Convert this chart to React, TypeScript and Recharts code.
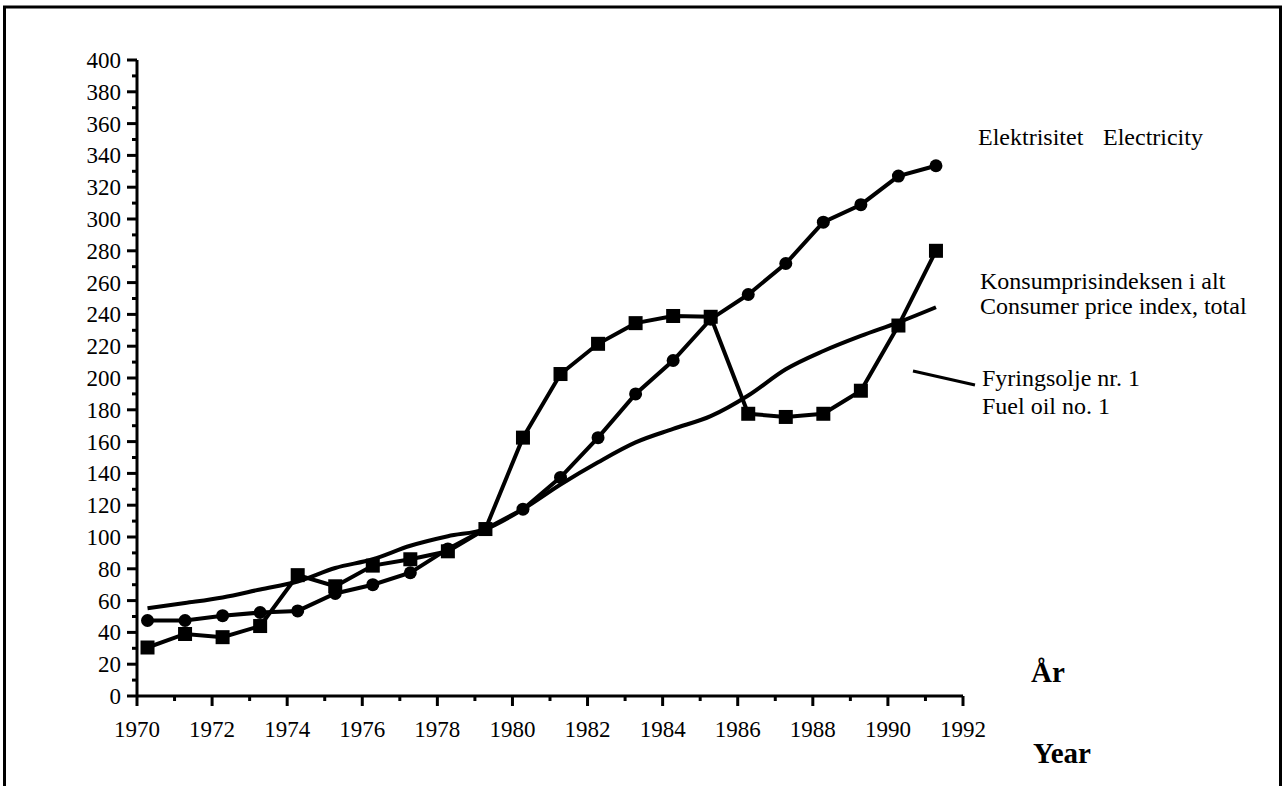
import React from 'react';
import { LineChart, Line, XAxis, YAxis } from 'recharts';

// price index series (points sit a bit after each year mark)
const years = [1970, 1971, 1972, 1973, 1974, 1975, 1976, 1977, 1978, 1979, 1980, 1981, 1982, 1983, 1984, 1985, 1986, 1987, 1988, 1989, 1990, 1991];
const electricity = [47.5, 47.5, 50.5, 52.5, 53.5, 64.5, 70, 77.5, 92.5, 105, 117.5, 137.5, 162.5, 190, 211, 237, 252.5, 272, 298, 309, 327, 333.5];
const fuelOil = [30.5, 39, 37, 44, 76, 69, 82, 86, 91, 105, 162.5, 202.5, 221.5, 234.5, 239, 238.5, 177.5, 175.5, 177.5, 192, 233, 280];
const cpi = [55.2, 58.5, 62, 67, 72, 80.5, 86, 94.5, 100.5, 105, 117.5, 133, 147, 159.5, 168, 176, 189, 205.5, 217, 226.5, 235, 244.5];

const xTicks = [1970, 1971, 1972, 1973, 1974, 1975, 1976, 1977, 1978, 1979, 1980, 1981, 1982, 1983, 1984, 1985, 1986, 1987, 1988, 1989, 1990, 1991, 1992];
const yTicks = [0, 10, 20, 30, 40, 50, 60, 70, 80, 90, 100, 110, 120, 130, 140, 150, 160, 170, 180, 190, 200, 210, 220, 230, 240, 250, 260, 270, 280, 290, 300, 310, 320, 330, 340, 350, 360, 370, 380, 390, 400];

const font = "'Liberation Serif', 'Times New Roman', serif";
const yearOffset = 0.28;

const data = years.map((y, i) => ({
  x: y + yearOffset,
  el: electricity[i],
  oil: fuelOil[i],
  cpi: cpi[i],
}));

const XTick = (props: any) => {
  const { x, y, payload } = props;
  const major = payload.value % 2 === 0;
  return (
    <g>
      <line x1={x} x2={x} y1={y} y2={y + (major ? 10 : 5)} stroke="#000" strokeWidth={3} />
      {major && (
        <text x={x} y={y + 41} textAnchor="middle" fontFamily={font} fontSize={23} fill="#000">
          {payload.value}
        </text>
      )}
    </g>
  );
};

const YTick = (props: any) => {
  const { x, y, payload } = props;
  const major = payload.value % 20 === 0;
  return (
    <g>
      <line x1={x - (major ? 10 : 5)} x2={x} y1={y} y2={y} stroke="#000" strokeWidth={3} />
      {major && (
        <text x={x - 16} y={y + 8} textAnchor="end" fontFamily={font} fontSize={23} fill="#000">
          {payload.value}
        </text>
      )}
    </g>
  );
};

const SquareDot = (props: any) => {
  const { cx, cy, index } = props;
  return <rect key={'sq' + index} x={cx - 7} y={cy - 7} width={14} height={14} fill="#000" />;
};

export default function App() {
  return (
    <div style={{ position: 'absolute', left: 0, top: 0, width: 1282, height: 786, overflow: 'hidden', background: '#fff' }}>
      <LineChart width={1282} height={786} data={data} margin={{ top: 60, right: 319, bottom: 40, left: 0 }}>
        <XAxis
          dataKey="x"
          type="number"
          domain={[1970, 1992]}
          ticks={xTicks}
          interval={0}
          tick={<XTick />}
          tickLine={false}
          tickSize={0}
          tickMargin={0}
          height={50}
          axisLine={{ stroke: '#000', strokeWidth: 3 }}
        />
        <YAxis
          type="number"
          domain={[0, 400]}
          ticks={yTicks}
          interval={0}
          tick={<YTick />}
          tickLine={false}
          tickSize={0}
          tickMargin={0}
          width={137}
          axisLine={{ stroke: '#000', strokeWidth: 3 }}
        />
        <Line dataKey="cpi" type="monotone" stroke="#000" strokeWidth={4} dot={false} isAnimationActive={false} />
        <Line dataKey="oil" type="linear" stroke="#000" strokeWidth={4} dot={SquareDot} isAnimationActive={false} />
        <Line dataKey="el" type="linear" stroke="#000" strokeWidth={4} dot={{ r: 6.5, fill: '#000', stroke: '#000', strokeWidth: 0 }} isAnimationActive={false} />
      </LineChart>
      <svg width={1282} height={786} style={{ position: 'absolute', left: 0, top: 0, pointerEvents: 'none' }}>
        <path d="M4.5,786 V7 H1280.5 V786" fill="none" stroke="#000" strokeWidth={3} />
        <g fontFamily={font} fontSize={24} fill="#000">
          <text x={978} y={145}>Elektrisitet</text>
          <text x={1103} y={145}>Electricity</text>
          <text x={980} y={289}>Konsumprisindeksen i alt</text>
          <text x={980} y={314}>Consumer price index, total</text>
          <text x={982} y={386}>Fyringsolje nr. 1</text>
          <text x={982} y={414}>Fuel oil no. 1</text>
        </g>
        <line x1={913} y1={371} x2={975} y2={385} stroke="#000" strokeWidth={3} />
        <g fontFamily={font} fontSize={29} fontWeight="bold" fill="#000">
          <text x={1031} y={682}>År</text>
          <text x={1033} y={763}>Year</text>
        </g>
      </svg>
    </div>
  );
}
